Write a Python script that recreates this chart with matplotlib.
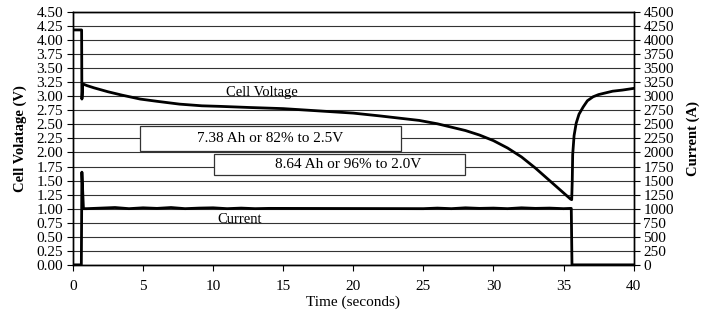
import matplotlib
matplotlib.use('Agg')
import matplotlib.pyplot as plt
from matplotlib.patches import Rectangle
import numpy as np

plt.rcParams['font.family'] = ['Liberation Serif', 'DejaVu Serif']

# cell voltage (V) vs time (s)
volt_t = [0, 0.62, 0.64, 0.66, 0.7, 1.0, 1.5, 2.5, 3.5, 4.8, 6, 7.6, 9.2, 10.5, 12.6, 15,
          17.5, 20, 21.9, 23.3, 24.7, 26, 27, 28, 29, 30, 31, 32, 33, 34, 35, 35.5,
          35.58, 35.62, 35.65, 35.75, 35.9, 36.1, 36.4, 36.7, 37.1, 37.5, 38, 38.5, 39.2, 40]
volt_v = [4.18, 4.18, 2.95, 3.0, 3.22, 3.19, 3.15, 3.08, 3.02, 2.95, 2.91, 2.86, 2.83, 2.82, 2.80, 2.78,
          2.74, 2.70, 2.65, 2.61, 2.57, 2.51, 2.45, 2.39, 2.31, 2.21, 2.08, 1.92, 1.72, 1.50, 1.28, 1.17,
          1.16, 1.5, 1.96, 2.3, 2.52, 2.68, 2.81, 2.92, 2.99, 3.03, 3.06, 3.09, 3.11, 3.14]

# current (A) vs time (s)
curr_t = [0, 0.6, 0.64, 0.75, 1, 2, 3, 4, 5, 6, 7, 8, 9, 10, 11, 12, 13, 14,
          25, 26, 27, 28, 29, 30, 31, 32, 33, 34, 35, 35.55, 35.6, 40]
curr_a = [0, 0, 1650, 1000, 1000, 1010, 1020, 1000, 1015, 1005, 1020, 1000, 1010, 1015, 1000, 1010, 1000, 1005,
          1000, 1010, 1000, 1015, 1005, 1010, 1000, 1015, 1005, 1010, 1000, 1005, 0, 0]

notes = ['7.38 Ah or 82% to 2.5V', '8.64 Ah or 96% to 2.0V']

fig = plt.figure(figsize=(7.08, 3.23), dpi=100)
ax = fig.add_axes([0.103, 0.18, 0.792, 0.783])
ax2 = ax.twinx()

ax.set_xlim(0, 40)
ax.set_ylim(0, 4.5)
ax2.set_ylim(0, 4500)
ax.set_xticks(np.arange(0, 41, 5))
ax.set_yticks(np.arange(0, 4.51, 0.25))
ax.set_yticklabels([f'{v:.2f}' for v in np.arange(0, 4.51, 0.25)])
ax2.set_yticks(np.arange(0, 4501, 250))
for a in (ax, ax2):
    a.tick_params(labelsize=11, direction='out', length=4, width=0.8, pad=3)
    for s in a.spines.values():
        s.set_linewidth(1.0)
ax.tick_params(axis='x', pad=7)
ax.yaxis.grid(True, color='#333333', linewidth=0.8)
ax.set_axisbelow(True)

ax.plot(volt_t, volt_v, color='black', lw=2.0, zorder=3)
ax2.plot(curr_t, curr_a, color='black', lw=2.0, zorder=3)

# annotation boxes
ax.add_patch(Rectangle((4.8, 2.03), 18.6, 0.44, facecolor='white', edgecolor='#333333', lw=0.9, zorder=4))
ax.text(14.1, 2.25, notes[0], ha='center', va='center', fontsize=11, zorder=5)
ax.add_patch(Rectangle((10.05, 1.6), 17.95, 0.37, facecolor='white', edgecolor='#333333', lw=0.9, zorder=4))
ax.text(19.6, 1.785, notes[1], ha='center', va='center', fontsize=11, zorder=5)

ax.text(13.5, 3.07, 'Cell Voltage', ha='center', va='center', fontsize=10.5)
ax.text(11.9, 0.81, 'Current', ha='center', va='center', fontsize=10.5)

ax.set_xlabel('Time (seconds)', fontsize=11, labelpad=2)
ax.set_ylabel('Cell Volatage (V)', fontsize=10.5, fontweight='bold', labelpad=7)
ax2.set_ylabel('Current (A)', fontsize=10.5, fontweight='bold', labelpad=9)

fig.savefig('out.png', dpi=100)
